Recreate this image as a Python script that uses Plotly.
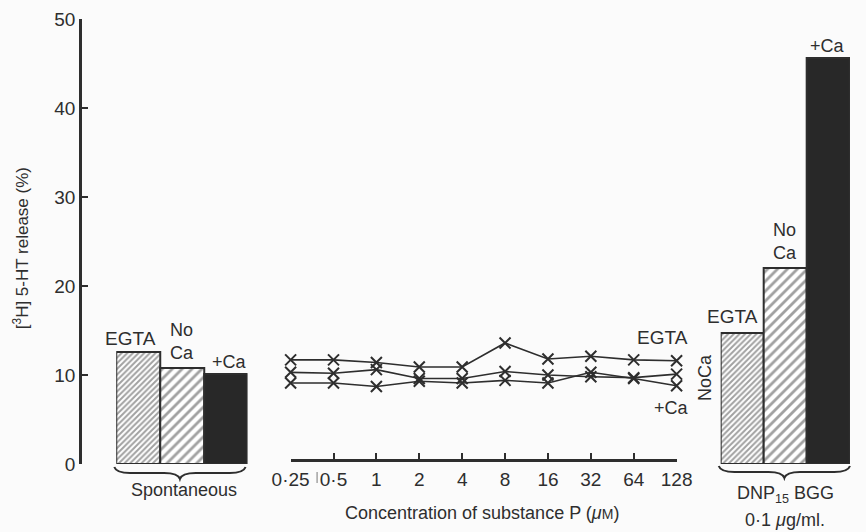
import plotly.graph_objects as go

# ---------------- data ----------------
bar_cats = ["EGTA", "No Ca", "+Ca"]
spont_vals = [12.6, 10.8, 10.1]
dnp_vals = [14.7, 22.0, 45.6]

conc_labels = ["0·25", "0·5", "1", "2", "4", "8", "16", "32", "64", "128"]
egta_line = [11.7, 11.7, 11.4, 10.9, 10.9, 13.6, 11.8, 12.1, 11.7, 11.6]
noca_line = [10.3, 10.2, 10.6, 9.6, 9.6, 10.4, 10.0, 9.8, 9.7, 10.1]
ca_line = [9.1, 9.1, 8.7, 9.3, 9.1, 9.4, 9.1, 10.3, 9.6, 8.8]

y_ticks = [0, 10, 20, 30, 40, 50]

# ---------------- geometry helpers (layout only) ----------------
W, H = 866, 532
ML, MR, MT, MB = 80, 0, 19, 68
PW, PH = W - ML - MR, H - MT - MB


def px(x):
    return (x - ML) / PW


def py(y):
    return (H - MB - y) / PH


INK = "#2e2e2e"
DARK = "#282828"
FONT = "Liberation Sans, Arial, sans-serif"

fig = go.Figure()

bar_marker = dict(
    color=["white", "white", DARK],
    line=dict(color=INK, width=2),
    pattern=dict(shape=["/", "/", ""], size=[4, 7, 8], solidity=[0.5, 0.4, 0.2],
                 fgcolor="#1a1a1a", fillmode="overlay"),
)

fig.add_trace(go.Bar(x=bar_cats, y=spont_vals, xaxis="x", yaxis="y",
                     marker=bar_marker, showlegend=False))
fig.add_trace(go.Bar(x=bar_cats, y=dnp_vals, xaxis="x3", yaxis="y",
                     marker=bar_marker, showlegend=False))

for series in (egta_line, noca_line, ca_line):
    fig.add_trace(go.Scatter(
        x=conc_labels, y=series, xaxis="x2", yaxis="y", mode="lines+markers",
        line=dict(color=INK, width=1.6),
        marker=dict(symbol="x-thin", size=11, line=dict(color=INK, width=2)),
        cliponaxis=False, showlegend=False))

fig.update_layout(
    width=W, height=H,
    margin=dict(l=ML, r=MR, t=MT, b=MB),
    paper_bgcolor="#fbfbfb", plot_bgcolor="rgba(0,0,0,0)",
    bargap=0,
    font=dict(family=FONT, color=INK, size=18),
    xaxis=dict(domain=[px(117), px(251)], type="category", range=[-0.5, 2.5],
               visible=False, anchor="y"),
    xaxis3=dict(domain=[px(734), 1.0], type="category", range=[-0.5, 2.5],
                visible=False, anchor="y"),
    xaxis2=dict(domain=[px(295), px(689)], type="category", range=[0, 9],
                anchor="free", position=py(460), showline=True, linecolor=INK,
                linewidth=2.5, ticks="inside", ticklen=6, tickwidth=2,
                tickcolor=INK, showgrid=False, zeroline=False,
                tickfont=dict(size=19, family=FONT, color=INK),
                ticklabelstandoff=1),
    yaxis=dict(range=[0, 50], domain=[0, 1], anchor="free", position=0,
               showline=True, linecolor=INK, linewidth=2.5, ticks="inside",
               ticklen=6, tickwidth=2, tickcolor=INK, tickvals=y_ticks,
               showgrid=False, zeroline=False,
               tickfont=dict(size=19, family=FONT, color=INK)),
)

ann = []


def label(text, x, y, size=18, angle=0):
    ann.append(dict(text=text, x=px(x), y=py(y), xref="paper", yref="paper",
                    showarrow=False, xanchor="center", yanchor="middle",
                    textangle=angle, font=dict(size=size, family=FONT, color=INK)))


label("[<sup>3</sup>H] 5-HT release (%)", 20, 248, size=17, angle=-90)
label("EGTA", 132, 338, size=19)
label("No<br>Ca", 184, 341)
label("+Ca", 233, 362)
label("Spontaneous", 186, 490, size=18)
label("EGTA", 746, 316, size=19)
label("No<br>Ca", 800, 242)
label("+Ca", 843, 46)
label("DNP<sub>15</sub> BGG", 800, 494, size=18)
label("0·1 <i>μ</i>g/ml.", 800, 520, size=18)
label("EGTA", 675, 337, size=19)
label("+Ca", 684, 408)
label("NoCa", 718, 378, angle=-90)
label("Concentration of substance P (<i>μ</i><span style='font-size:14px'>M</span>)",
      490, 513, size=18)
fig.update_layout(annotations=ann)


def brace(x0, x1, yt, ym, yb):
    xc = (x0 + x1) / 2
    d = (x1 - x0) * 0.12
    pts = [
        f"M {px(x0)},{py(yt)}",
        f"Q {px(x0 + 2)},{py(ym)} {px(x0 + d)},{py(ym)}",
        f"L {px(xc - d)},{py(ym)}",
        f"Q {px(xc - 2)},{py(ym)} {px(xc)},{py(yb)}",
        f"Q {px(xc + 2)},{py(ym)} {px(xc + d)},{py(ym)}",
        f"L {px(x1 - d)},{py(ym)}",
        f"Q {px(x1 - 2)},{py(ym)} {px(x1)},{py(yt)}",
    ]
    return dict(type="path", path=" ".join(pts), xref="paper", yref="paper",
                line=dict(color=INK, width=2))


shapes = [
    brace(115, 249, 467, 473, 479),
    brace(732, 866, 466, 472, 478),
    dict(type="line", xref="paper", yref="paper", x0=px(322), x1=px(322),
         y0=py(472), y1=py(483), line=dict(color="#777777", width=1)),
]
fig.update_layout(shapes=shapes)

fig.write_html("out.html")
